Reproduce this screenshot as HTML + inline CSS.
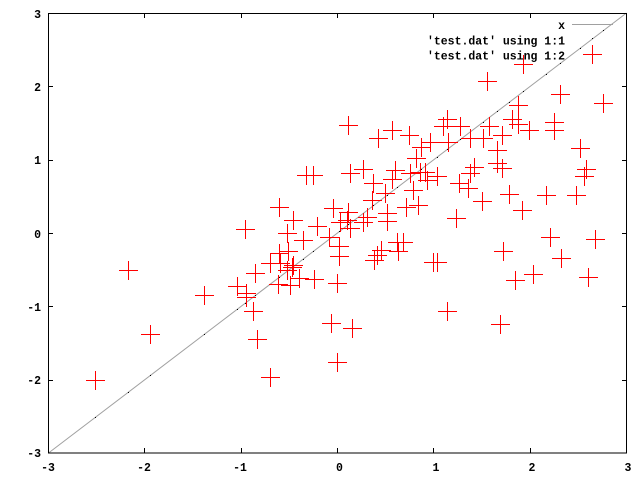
<!DOCTYPE html>
<html><head><meta charset="utf-8"><style>
html,body{margin:0;padding:0;background:#fff;}
svg{display:block;}
text{font-family:"Liberation Mono",monospace;font-weight:bold;font-size:11.5px;fill:#000;}
</style></head><body>
<svg width="640" height="480" viewBox="0 0 640 480" xmlns="http://www.w3.org/2000/svg">
<rect width="640" height="480" fill="#fff"/>
<line x1="48.5" y1="453" x2="626.5" y2="13" stroke="#a0a0a0" stroke-width="1"/>
<g fill="#000">
<rect x="95" y="417" width="1" height="1"/><rect x="128" y="392" width="1" height="1"/><rect x="150" y="375" width="1" height="1"/><rect x="204" y="334" width="1" height="1"/><rect x="237" y="309" width="1" height="1"/><rect x="245" y="303" width="1" height="1"/><rect x="255" y="295" width="1" height="1"/><rect x="270" y="284" width="1" height="1"/><rect x="279" y="277" width="1" height="1"/><rect x="287" y="271" width="1" height="1"/><rect x="293" y="266" width="1" height="1"/><rect x="303" y="259" width="1" height="1"/><rect x="313" y="251" width="1" height="1"/><rect x="329" y="239" width="1" height="1"/><rect x="339" y="231" width="1" height="1"/><rect x="348" y="224" width="1" height="1"/><rect x="363" y="213" width="1" height="1"/><rect x="373" y="205" width="1" height="1"/><rect x="387" y="195" width="1" height="1"/><rect x="397" y="187" width="1" height="1"/><rect x="410" y="177" width="1" height="1"/><rect x="421" y="169" width="1" height="1"/><rect x="437" y="157" width="1" height="1"/><rect x="447" y="149" width="1" height="1"/><rect x="460" y="139" width="1" height="1"/><rect x="470" y="131" width="1" height="1"/><rect x="483" y="122" width="1" height="1"/><rect x="497" y="111" width="1" height="1"/><rect x="509" y="102" width="1" height="1"/><rect x="523" y="91" width="1" height="1"/><rect x="546" y="74" width="1" height="1"/><rect x="560" y="63" width="1" height="1"/><rect x="580" y="48" width="1" height="1"/><rect x="592" y="38" width="1" height="1"/><rect x="603" y="30" width="1" height="1"/>
</g>
<path fill="none" stroke="#ff0000" stroke-width="1" d="M583 54.5h19M592.5 45v19 M514 64.5h19M523.5 55v19 M478 81.5h19M487.5 72v19 M594 103.5h19M603.5 94v19 M551 94.5h19M560.5 85v19 M509 105.5h19M518.5 96v19 M438 119.5h19M447.5 110v19 M434 126.5h19M443.5 117v19 M451 126.5h19M460.5 117v19 M480 126.5h19M489.5 117v19 M503 119.5h19M512.5 110v19 M509 124.5h19M518.5 115v19 M520 130.5h19M529.5 121v19 M545 122.5h19M554.5 113v19 M545 130.5h19M554.5 121v19 M421 142.5h19M430.5 133v19 M439 142.5h19M448.5 133v19 M461 138.5h19M470.5 129v19 M474 138.5h19M483.5 129v19 M493 135.5h19M502.5 126v19 M488 150.5h19M497.5 141v19 M571 148.5h19M580.5 139v19 M488 163.5h19M497.5 154v19 M493 168.5h19M502.5 159v19 M465 167.5h19M474.5 158v19 M461 173.5h19M470.5 164v19 M577 169.5h19M586.5 160v19 M575 176.5h19M584.5 167v19 M428 176.5h19M437.5 167v19 M416 172.5h19M425.5 163v19 M418 180.5h19M427.5 171v19 M450 183.5h19M459.5 174v19 M459 188.5h19M468.5 179v19 M500 194.5h19M509.5 185v19 M537 195.5h19M546.5 186v19 M567 195.5h19M576.5 186v19 M473 201.5h19M482.5 192v19 M513 210.5h19M522.5 201v19 M447 218.5h19M456.5 209v19 M541 237.5h19M550.5 228v19 M586 239.5h19M595.5 230v19 M494 251.5h19M503.5 242v19 M552 258.5h19M561.5 249v19 M428 262.5h19M437.5 253v19 M524 274.5h19M533.5 265v19 M506 280.5h19M515.5 271v19 M579 277.5h19M588.5 268v19 M438 311.5h19M447.5 302v19 M491 324.5h19M500.5 315v19 M339 125.5h19M348.5 116v19 M369 138.5h19M378.5 129v19 M383 130.5h19M392.5 121v19 M400 135.5h19M409.5 126v19 M412 147.5h19M421.5 138v19 M407 158.5h19M416.5 149v19 M354 169.5h19M363.5 160v19 M341 173.5h19M350.5 164v19 M386 170.5h19M395.5 161v19 M383 179.5h19M392.5 170v19 M401 173.5h19M410.5 164v19 M411 172.5h19M420.5 163v19 M364 183.5h19M373.5 174v19 M376 193.5h19M385.5 184v19 M363 200.5h19M372.5 191v19 M404 190.5h19M413.5 181v19 M324 208.5h19M333.5 199v19 M397 207.5h19M406.5 198v19 M409 205.5h19M418.5 196v19 M297 175.5h19M306.5 166v19 M304 175.5h19M313.5 166v19 M270 207.5h19M279.5 198v19 M284 220.5h19M293.5 211v19 M308 226.5h19M317.5 217v19 M236 229.5h19M245.5 220v19 M278 233.5h19M287.5 224v19 M294 240.5h19M303.5 231v19 M320 237.5h19M329.5 228v19 M339 212.5h19M348.5 203v19 M338 220.5h19M347.5 211v19 M331 222.5h19M340.5 213v19 M358 217.5h19M367.5 208v19 M354 222.5h19M363.5 213v19 M378 213.5h19M387.5 204v19 M378 221.5h19M387.5 212v19 M341 228.5h19M350.5 219v19 M330 246.5h19M339.5 237v19 M330 256.5h19M339.5 247v19 M388 242.5h19M397.5 233v19 M394 242.5h19M403.5 233v19 M372 250.5h19M381.5 241v19 M368 255.5h19M377.5 246v19 M365 260.5h19M374.5 251v19 M389 251.5h19M398.5 242v19 M270 253.5h19M279.5 244v19 M279 251.5h19M288.5 242v19 M261 263.5h19M270.5 254v19 M271 263.5h19M280.5 254v19 M283 267.5h19M292.5 258v19 M278 270.5h19M287.5 261v19 M284 265.5h19M293.5 256v19 M246 273.5h19M255.5 264v19 M228 286.5h19M237.5 277v19 M237 293.5h19M246.5 284v19 M237 297.5h19M246.5 288v19 M269 284.5h19M278.5 275v19 M281 285.5h19M290.5 276v19 M290 278.5h19M299.5 269v19 M305 279.5h19M314.5 270v19 M328 283.5h19M337.5 274v19 M244 311.5h19M253.5 302v19 M248 339.5h19M257.5 330v19 M261 377.5h19M270.5 368v19 M322 323.5h19M331.5 314v19 M343 328.5h19M352.5 319v19 M328 362.5h19M337.5 353v19 M424 262.5h19M433.5 253v19 M119 270.5h19M128.5 261v19 M195 295.5h19M204.5 286v19 M141 334.5h19M150.5 325v19 M86 380.5h19M95.5 371v19"/>
<rect x="48.5" y="13.5" width="578" height="439.5" fill="none" stroke="#000" stroke-width="1"/>
<path fill="none" stroke="#000" stroke-width="1" d="M144.5 453v-5M241.5 453v-5M337.5 453v-5M433.5 453v-5M530.5 453v-5 M144.5 13v5M241.5 13v5M337.5 13v5M433.5 13v5M530.5 13v5 M48 86.5h5M48 160.5h5M48 233.5h5M48 306.5h5M48 380.5h5 M627 86.5h-5M627 160.5h-5M627 233.5h-5M627 306.5h-5M627 380.5h-5"/>
<g text-anchor="end">
<text x="41" y="18">3</text>
<text x="41" y="91">2</text>
<text x="41" y="164">1</text>
<text x="41" y="238">0</text>
<text x="41" y="311">-1</text>
<text x="41" y="384">-2</text>
<text x="41" y="457">-3</text>
</g>
<g text-anchor="middle">
<text x="48" y="471">-3</text>
<text x="144" y="471">-2</text>
<text x="240" y="471">-1</text>
<text x="339.5" y="471">0</text>
<text x="436" y="471">1</text>
<text x="532" y="471">2</text>
<text x="628" y="471">3</text>
</g>
<g text-anchor="end">
<text x="565" y="29">x</text>
<text x="565" y="44.5">'test.dat' using 1:1</text>
<text x="565" y="59.5">'test.dat' using 1:2</text>
</g>
<line x1="572" y1="24.5" x2="613" y2="24.5" stroke="#a0a0a0" stroke-width="1"/>
</svg>
</body></html>
